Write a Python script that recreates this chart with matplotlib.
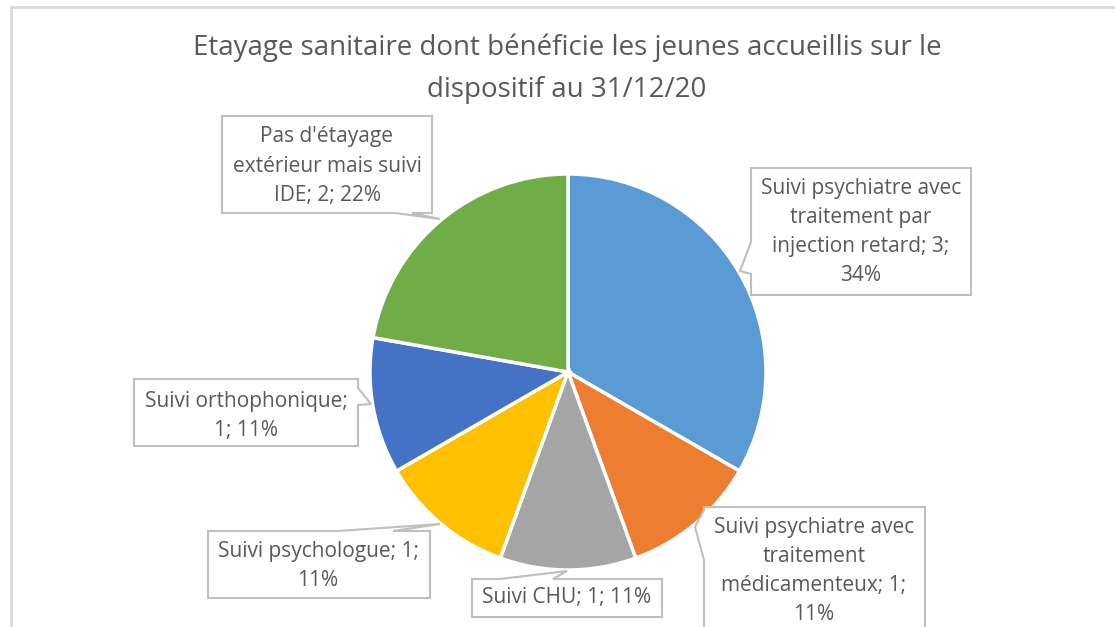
import matplotlib
matplotlib.use("Agg")
import matplotlib.pyplot as plt
from matplotlib.patches import Polygon

W, H = 1115, 627

# data
categories = [
    "Suivi psychiatre avec\ntraitement par\ninjection retard",
    "Suivi psychiatre avec\ntraitement\nmédicamenteux",
    "Suivi CHU",
    "Suivi psychologue",
    "Suivi orthophonique",
    "Pas d'étayage\nextérieur mais suivi\nIDE",
]
values = [3, 1, 1, 1, 1, 2]
percents = ["34%", "11%", "11%", "11%", "11%", "22%"]
colors = ["#5B9BD5", "#ED7D31", "#A5A5A5", "#FFC000", "#4472C4", "#70AD47"]
title = "Etayage sanitaire dont bénéficie les jeunes accueillis sur le\ndispositif au 31/12/20"

# label layout (pixel coords, y from top)
label_fmt = ["{n}; {v};\n{p}", "{n}; {v};\n{p}", "{n}; {v}; {p}",
             "{n}; {v};\n{p}", "{n};\n{v}; {p}", "{n}; {v}; {p}"]
boxes = [(751, 168, 971, 295), (704, 507, 925, 660), (472, 579, 662, 617),
         (208, 531, 430, 598), (134, 379, 358, 446), (222, 116, 432, 213)]
tails = [("left", 242, 274, (740, 271)), ("left", 510, 560, (695, 527)),
         ("top", 500, 553, (567, 571)), ("top", 338, 393, (440, 524)),
         ("right", 388, 405, (371, 404)), ("bottom", 395, 412, (440, 219))]
text_pos = [(861, 232), (814, 571), (567, 598), (318, 566), (246, 416), (327, 166)]

TXT = "#595959"
EDGE = "#BFBFBF"


def py(y):
    return H - y


def callout(box, tail):
    x0, y0, x1, y1 = box
    side, a, b, tip = tail
    pts = [(x0, y0)]
    if side == "top":
        pts += [(a, y0), tip, (b, y0)]
    pts += [(x1, y0)]
    if side == "right":
        pts += [(x1, a), tip, (x1, b)]
    pts += [(x1, y1)]
    if side == "bottom":
        pts += [(b, y1), tip, (a, y1)]
    pts += [(x0, y1)]
    if side == "left":
        pts += [(x0, b), tip, (x0, a)]
    return [(x, py(y)) for x, y in pts]


fig = plt.figure(figsize=(W / 100, H / 100), dpi=100)
ax = fig.add_axes([0, 0, 1, 1])

# chart frame (left and top visible)
ax.plot([11, 11, W + 5], [py(H + 5), py(7), py(7)], color="#D9D9D9", lw=2, solid_capstyle="butt")

ax.pie(values, colors=colors, startangle=90, counterclock=False,
       center=(568, py(372)), radius=198, frame=True,
       wedgeprops=dict(edgecolor="white", linewidth=2.5))
ax.set_xlim(0, W)
ax.set_ylim(0, H)
ax.set_aspect("equal")
ax.axis("off")

ax.text(567, py(69), title, ha="center", va="center", fontsize=20,
        color=TXT, family="Open Sans", linespacing=1.65)

for i in range(len(values)):
    ax.add_patch(Polygon(callout(boxes[i], tails[i]), closed=True,
                         facecolor="white", edgecolor=EDGE, lw=1.5, zorder=3))
    txt = label_fmt[i].format(n=categories[i], v=values[i], p=percents[i])
    x, y = text_pos[i]
    ax.text(x, py(y), txt, ha="center", va="center", fontsize=15,
            color=TXT, family="Open Sans", linespacing=1.52, zorder=4)

fig.savefig("out.png", dpi=100)
